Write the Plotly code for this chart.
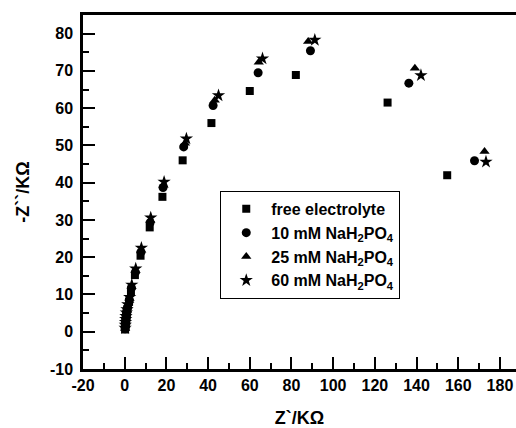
import plotly.graph_objects as go

# Series data (Z' in kOhm, -Z'' in kOhm)
free_x = [0.2, 0.3, 0.4, 0.5, 0.6, 0.8, 1.0, 1.3, 2.1, 3.0, 4.9, 7.6, 12.0, 18.1, 27.8, 41.6, 60.0, 82.1, 126.1, 154.7]
free_y = [0.6, 1.3, 2.0, 2.7, 3.4, 4.2, 5.0, 6.0, 8.0, 10.8, 15.2, 20.4, 28.0, 36.2, 46.0, 56.0, 64.6, 68.9, 61.5, 42.0]

na10_x = [0.2, 0.3, 0.4, 0.5, 0.6, 0.8, 1.0, 1.4, 2.2, 3.2, 5.1, 7.8, 12.2, 18.4, 28.3, 42.4, 64.0, 89.1, 136.3, 167.8]
na10_y = [0.8, 1.5, 2.3, 3.0, 3.8, 4.6, 5.5, 6.6, 8.6, 11.8, 16.0, 21.4, 29.3, 38.7, 49.6, 60.7, 69.5, 75.4, 66.7, 45.9]

na25_x = [0.2, 0.3, 0.4, 0.5, 0.6, 0.8, 1.0, 1.4, 2.3, 3.3, 5.2, 7.9, 12.3, 18.6, 28.9, 43.2, 64.3, 88.0, 139.2, 172.6]
na25_y = [0.9, 1.6, 2.4, 3.1, 3.9, 4.8, 5.7, 6.9, 8.9, 12.1, 16.4, 21.9, 29.9, 39.3, 50.6, 62.1, 72.3, 77.9, 70.7, 48.4]

na60_x = [0.2, 0.3, 0.4, 0.5, 0.6, 0.8, 1.1, 1.5, 2.4, 3.4, 5.3, 8.0, 12.5, 18.9, 29.6, 45.0, 66.1, 91.2, 142.1, 173.3]
na60_y = [1.0, 1.8, 2.6, 3.4, 4.2, 5.1, 6.0, 7.3, 9.3, 12.6, 16.9, 22.5, 30.6, 40.2, 51.8, 63.4, 73.3, 78.3, 68.8, 45.6]

names = ["free electrolyte",
         "10 mM NaH<sub>2</sub>PO<sub>4</sub>",
         "25 mM NaH<sub>2</sub>PO<sub>4</sub>",
         "60 mM NaH<sub>2</sub>PO<sub>4</sub>"]
symbols = ["square", "circle", "triangle-up", "star"]
sizes = [8, 9, 9, 10]

x_tickvals = [-20, 0, 20, 40, 60, 80, 100, 120, 140, 160, 180]
x_ticktext = ["-20", "0", "20", "40", "60", "80", "100", "120", "140", "160", "180"]
y_tickvals = [-10, 0, 10, 20, 30, 40, 50, 60, 70, 80]
y_ticktext = ["-10", "0", "10", "20", "30", "40", "50", "60", "70", "80"]

FONT = "Liberation Sans, Arial, sans-serif"

fig = go.Figure()
for xs, ys, nm, sym, sz in zip([free_x, na10_x, na25_x, na60_x],
                               [free_y, na10_y, na25_y, na60_y],
                               names, symbols, sizes):
    fig.add_trace(go.Scatter(x=xs, y=ys, mode="markers", name=nm,
                             marker=dict(symbol=sym, size=sz, color="black",
                                         line=dict(width=0))))

axis_common = dict(
    showgrid=False, zeroline=False, showline=True, linecolor="black", linewidth=2.5,
    ticks="inside", tickcolor="black", tickwidth=2, ticklen=12,
    tickfont=dict(family=FONT, size=16, color="black", weight="bold"),
)

fig.update_layout(
    width=516, height=428,
    margin=dict(l=83, r=0, t=15, b=59),
    paper_bgcolor="white", plot_bgcolor="white",
    font=dict(family=FONT, color="black"),
    showlegend=True,
    legend=dict(x=0.317, y=0.503, xanchor="left", yanchor="top",
                bordercolor="black", borderwidth=1, bgcolor="white",
                font=dict(family=FONT, size=16, color="black", weight="bold"),
                tracegroupgap=0, itemwidth=40),
    xaxis=dict(range=[-20, 187.7], tickmode="array", tickvals=x_tickvals, ticktext=x_ticktext,
               mirror=True,
               minor=dict(ticks="inside", dtick=10, tick0=-20, ticklen=6, tickwidth=2, tickcolor="black"),
               title=dict(text="Z`/KΩ", standoff=22,
                          font=dict(family=FONT, size=18, color="black", weight="bold")),
               **axis_common),
    yaxis=dict(range=[-10, 85], tickmode="array", tickvals=y_tickvals, ticktext=y_ticktext,
               minor=dict(ticks="inside", dtick=5, tick0=-10, ticklen=6, tickwidth=2, tickcolor="black"),
               ticklabelstandoff=4,
               title=dict(text="-Z``/KΩ", standoff=16,
                          font=dict(family=FONT, size=18, color="black", weight="bold")),
               **axis_common),
)

fig.write_html("out.html")
